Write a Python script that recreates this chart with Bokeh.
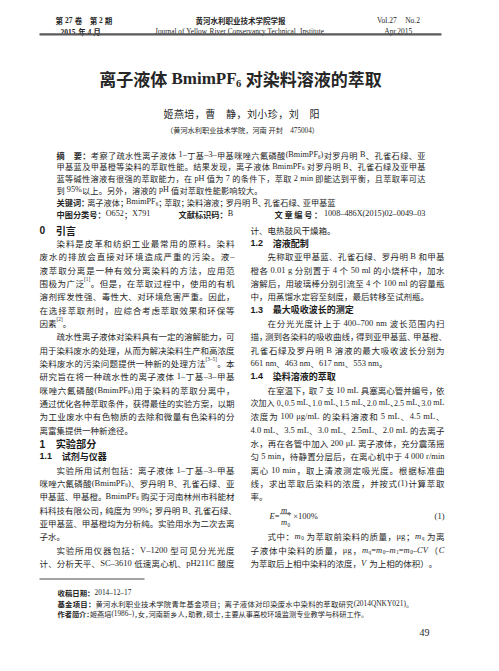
from bokeh.plotting import figure
from bokeh.models import ColumnDataSource, Range1d
from bokeh.embed import file_html
from bokeh.resources import INLINE

# ------------------------------------------------------------------ text data
header_left = ["*第 27 卷　第 2 期*", "*2015 年 4 月*"]
header_mid = ["*黄河水利职业技术学院学报*",
              "Journal of Yellow River Conservancy Technical  Institute"]
header_right = ["Vol.27　No.2", "Apr.2015"]
title = "*离子液体 BmimPF_{6} 对染料溶液的萃取*"
authors = "姬燕培，曹　静，刘小珍，刘　阳"
affiliation = "（黄河水利职业技术学院，河南 开封　475004）"

abstract_lines = [
    "*摘　要：*考察了疏水性离子液体 1–丁基–3–甲基咪唑六氟磷酸(BmimPF_{6})对罗丹明 B、孔雀石绿、亚",
    "甲基蓝及甲基橙等染料的萃取性能。结果发现，离子液体 BmimPF_{6} 对罗丹明 B、孔雀石绿及亚甲基",
    "蓝等碱性溶液有很强的萃取能力，在 pH 值为 7 的条件下，萃取 2 min 即能达到平衡，且萃取率可达",
    "到 95%以上。另外，溶液的 pH 值对萃取性能影响较大。",
    "*关键词：*离子液体；BmimPF_{6}；萃取；染料溶液；罗丹明 B、孔雀石绿、亚甲基蓝",
]
class_items = ["*中图分类号：*O652；X791", "*文献标识码：*B",
               "*文章编号：*1008–486X(2015)02–0049–03"]

left_lines = [
    "0　引言",
    "染料是皮革和纺织工业最常用的原料。染料",
    "废水的排放会直接对环境造成严重的污染。液–",
    "液萃取分离是一种有效分离染料的方法，应用范",
    "围极为广泛^{[1]}。但是，在萃取过程中，使用的有机",
    "溶剂挥发性强、毒性大、对环境危害严重。因此，",
    "在选择萃取剂时，应综合考虑萃取效果和环保等",
    "因素^{[2]}。",
    "疏水性离子液体对染料具有一定的溶解能力，可",
    "用于染料废水的处理，从而为解决染料生产和高浓度",
    "染料废水的污染问题提供一种新的处理方法^{[3–5]}。本",
    "研究旨在将一种疏水性的离子液体 1–丁基–3–甲基",
    "咪唑六氟磷酸(BmimPF_{6})用于染料的萃取分离中，",
    "通过优化各种萃取条件，获得最佳的实验方案，以期",
    "为工业废水中有色物质的去除和微量有色染料的分",
    "离富集提供一种新途径。",
    "1　实验部分",
    "1.1　试剂与仪器",
    "实验所用试剂包括：离子液体 1–丁基–3–甲基",
    "咪唑六氟磷酸(BmimPF_{6})、罗丹明 B、孔雀石绿、亚",
    "甲基蓝、甲基橙。BmimPF_{6} 购买于河南林州市科能材",
    "料科技有限公司，纯度为 99%；罗丹明 B、孔雀石绿、",
    "亚甲基蓝、甲基橙均为分析纯。实验用水为二次去离",
    "子水。",
    "实验所用仪器包括：V–1200 型可见分光光度",
    "计、分析天平、SC–3610 低速离心机、pH211C 酸度",
]
left_kinds = ["h", "i", "j", "j", "j", "j", "j", "e", "i", "j", "j", "j", "j",
              "j", "j", "e", "h", "s", "i", "j", "j", "j", "j", "e", "i", "j"]

right_lines = [
    "计、电热鼓风干燥箱。",
    "1.2　溶液配制",
    "先称取亚甲基蓝、孔雀石绿、罗丹明 B 和甲基",
    "橙各 0.01 g 分别置于 4 个 50 ml 的小烧杯中，加水",
    "溶解后，用玻璃棒分别引流至 4 个 100 ml 的容量瓶",
    "中，用蒸馏水定容至刻度，最后转移至试剂瓶。",
    "1.3　最大吸收波长的测定",
    "在分光光度计上于 400–700 nm 波长范围内扫",
    "描，测到各染料的吸收曲线，得到亚甲基蓝、甲基橙、",
    "孔雀石绿及罗丹明 B 溶液的最大吸收波长分别为",
    "661 nm、463 nm、617 nm、553 nm。",
    "1.4　染料溶液的萃取",
    "在室温下，取 7 支 10 mL 具塞离心管并编号，依",
    "次加入 0、0.5 mL、1.0 mL、1.5 mL、2.0 mL、2.5 mL、3.0 mL",
    "浓度为 100 μg/mL 的染料溶液和 5 mL、4.5 mL、",
    "4.0 mL、3.5 mL、3.0 mL、2.5mL、2.0 mL 的去离子",
    "水，再在各管中加入 200 μL 离子液体，充分震荡摇",
    "匀 5 min，待静置分层后，在离心机中于 4 000 r/min",
    "离心 10 min，取上清液测定吸光度。根据标准曲",
    "线，求出萃取后染料的浓度，并按式(1)计算萃取",
    "率。",
    "",
    "",
    "式中：~m~_{0} 为萃取前染料的质量，μg；~m~_{q} 为离",
    "子液体中染料的质量，μg，~m~_{q}=~m~_{0}–~m~_{1}=~m~_{0}–~CV~（~C~",
    "为萃取后上相中染料的浓度，~V~ 为上相的体积）。",
]
right_kinds = ["e", "s", "i", "j", "j", "e", "s", "i", "j", "j", "e", "s", "i",
               "j", "j", "j", "j", "j", "j", "j", "e", "g", "g", "i", "j", "e"]

formula_parts = ["~E~=", "~m~_{q}", "~m~_{0}", "×100%", "(1)"]

footnotes = [
    "*收稿日期：*2014–12–17",
    "*基金项目：*黄河水利职业技术学院青年基金项目；离子液体对印染废水中染料的萃取研究(2014QNKY021)。",
    "*作者简介：*姬燕培(1986–)，女，河南新乡人，助教，硕士，主要从事高校环境监测专业教学与科研工作。",
]
page_number = "49"

# ------------------------------------------------------------------ styling
INK = "#262626"
CJK = "Noto Sans CJK SC"
SERIF_F = "Liberation Serif"
SANS_F = "Liberation Sans"

_W = {c: 0.5 for c in "0123456789"}
_W.update(dict(zip("abcdefghijklmnopqrstuvwxyz",
                   [.444, .5, .444, .5, .444, .333, .5, .5, .278, .278, .5, .278, .778,
                    .5, .5, .5, .5, .333, .389, .278, .5, .5, .722, .5, .5, .444])))
_W.update(dict(zip("ABCDEFGHIJKLMNOPQRSTUVWXYZ",
                   [.722, .667, .667, .722, .611, .556, .722, .722, .333, .389, .722, .611, .889,
                    .722, .722, .556, .722, .667, .556, .611, .722, .722, .944, .722, .722, .611])))
_W.update({"(": .333, ")": .333, "[": .333, "]": .333, ".": .25, ",": .25, ":": .278,
           ";": .278, "–": .5, "-": .333, "/": .278, "%": .833, "μ": .576, "×": .564,
           "=": .564})
PUNCT = set("，。、；：")

X, Y, T, F, S, ST, C = [], [], [], [], [], [], []


def lat_w(ch, sans):
    if sans:
        if ch.isdigit():
            return 0.556
        if ch == ".":
            return 0.278
        return 0.6
    return _W.get(ch, 0.5)


def parse(s):
    toks, bold, ital, script, i = [], False, False, "n", 0
    while i < len(s):
        c = s[i]
        if c == "*":
            bold = not bold; i += 1; continue
        if c == "~":
            ital = not ital; i += 1; continue
        if s[i:i + 2] in ("_{", "^{"):
            script = "sub" if c == "_" else "sup"; i += 2; continue
        if c == "}" and script != "n":
            script = "n"; i += 1; continue
        toks.append((c, bold, ital, script))
        i += 1
    return toks


def chunks_of(s, fs, lat_font, force_bold):
    sans = lat_font == SANS_F
    out, pend = [], 0.0
    for (c, b, it, sc) in parse(s):
        b = b or force_bold
        sz = fs * (0.62 if sc != "n" else 1.0)
        if c == " ":
            pend += 0.25 * fs
            continue
        cjk = ord(c) >= 0x2E80
        prev = out[-1] if out else None
        if (not cjk and prev is not None and not prev["cjk"] and pend == 0
                and prev["b"] == b and prev["it"] == it and prev["sc"] == sc):
            prev["t"] += c
            prev["w"] += lat_w(c, sans) * sz * (1.05 if b else 1.0)
            continue
        glue = prev is not None and pend == 0 and (sc != "n" or (not cjk and not prev["cjk"]))
        w = sz if cjk else lat_w(c, sans) * sz * (1.05 if b else 1.0)
        out.append(dict(t=c, w=w, cjk=cjk, b=b, it=it, sc=sc, sz=sz, gap=pend,
                        glue=glue, punct=(c in PUNCT)))
        pend = 0.0
    return out


def place(s, x, yc, fs, x1=None, justify=False, align="left", lat_font=SERIF_F,
          force_bold=False, color=INK, draw=True):
    ch = chunks_of(s, fs, lat_font, force_bold)
    if not ch:
        return 0
    total = sum(c["w"] for c in ch) + sum(c["gap"] for c in ch[1:])
    scale, extra = 1.0, 0.0
    if x1 is not None:
        target = x1 - x
        if total > target:
            pun = [c for c in ch if c["punct"]]
            avail = sum(0.5 * c["w"] for c in pun)
            if avail > 0:
                r = min(total - target, avail)
                for c in pun:
                    c["w"] -= r * (0.5 * c["w"]) / avail
                total -= r
            if total > target:
                scale = target / total
                total = target
        elif justify:
            nb = sum(1 for c in ch[1:] if not c["glue"])
            if nb:
                extra = (target - total) / nb
                total = target
    if align == "center":
        x = x - total / 2
    elif align == "right":
        x = x - total
    if draw:
        cx = x
        for i, c in enumerate(ch):
            if i > 0:
                cx += c["gap"] * scale + (0 if c["glue"] else extra)
            off = {"n": 0.0, "sub": 0.25, "sup": -0.42}[c["sc"]] * fs
            X.append(cx)
            Y.append(yc + (0.37 * fs + off) * scale)
            T.append(c["t"])
            F.append(CJK if c["cjk"] else lat_font)
            S.append("%.2fpx" % (c["sz"] * scale))
            st = ("bold " if c["b"] else "") + ("italic" if c["it"] and not c["cjk"] else "")
            ST.append(st.strip() or "normal")
            C.append(color)
            cx += c["w"] * scale
    return total


# ------------------------------------------------------------------ layout
# running head
place(header_left[0], 63, 25, 7.5)
place(header_left[1], 68, 36.5, 7.5)
place(header_mid[0], 248, 25, 7.5, align="center")
place(header_mid[1], 247, 36.5, 7.3, align="center")
place(header_right[0], 406, 25, 7.5, align="center")
place(header_right[1], 406, 36.5, 7.5, align="center")

# title block
place(title, 248, 80, 17, align="center", force_bold=True)
place(authors, 171, 117, 10, x1=327, justify=True)
place(affiliation, 250, 135, 7.2, align="center")

# abstract (letter-spaced block; right ends of each line)
AB_X0, AB_Y0, AB_LH, AB_FS = 64, 159, 11.8, 8.2
abstract_ends = [433, 433, 433, 270, 343]
for k, line in enumerate(abstract_lines):
    place(line, AB_X0, AB_Y0 + k * AB_LH, AB_FS, x1=abstract_ends[k], justify=True)
cy = AB_Y0 + len(abstract_lines) * AB_LH
place(class_items[0], 64, cy, AB_FS)
place(class_items[1], 186, cy, AB_FS)
place(class_items[2], 282, cy, AB_FS, x1=433, justify=True)

# body columns
BODY_TOP, BODY_LH, BODY_FS = 234, 13.33, 8.5


def column(lines, kinds, x0, x1):
    for k, (line, kind) in enumerate(zip(lines, kinds)):
        y = BODY_TOP + k * BODY_LH
        if kind == "g" or not line:
            continue
        if kind == "h":
            place(line, x0, y, 10.2, lat_font=SANS_F, force_bold=True, color="#1a1a1a")
        elif kind == "s":
            place(line, x0, y, 9, lat_font=SANS_F, force_bold=True, color="#1a1a1a")
        elif kind == "i":
            place(line, x0 + 2 * BODY_FS, y, BODY_FS, x1=x1, justify=True)
        elif kind == "j":
            place(line, x0, y, BODY_FS, x1=x1, justify=True)
        else:
            place(line, x0, y, BODY_FS, x1=x1, justify=False)


column(left_lines, left_kinds, 47, 242)
column(right_lines, right_kinds, 258, 452)

# equation (1)
fy = BODY_TOP + 21.5 * BODY_LH
ex = 277
w_e = place(formula_parts[0], ex, fy, BODY_FS)
w_num = place(formula_parts[1], 0, 0, BODY_FS, draw=False)
w_den = place(formula_parts[2], 0, 0, BODY_FS, draw=False)
fw = max(w_num, w_den)
fxc = ex + w_e + 1.5 + fw / 2
place(formula_parts[1], fxc, fy - 5.8, BODY_FS, align="center")
place(formula_parts[2], fxc, fy + 6.2, BODY_FS, align="center")
place(formula_parts[3], fxc + fw / 2 + 3, fy, BODY_FS)
place(formula_parts[4], 452, fy, BODY_FS, align="right")

# footnotes
FN_FS = 7.4
place(footnotes[0], 65, 597, FN_FS)
place(footnotes[1], 65, 608, FN_FS, x1=421, justify=True)
place(footnotes[2], 65, 619, FN_FS, x1=372, justify=True)
place(page_number, 432, 636.5, 10, align="center")

# ------------------------------------------------------------------ figure
p = figure(width=483, height=655, x_range=Range1d(8, 491), y_range=Range1d(663, 8),
           output_backend="svg", toolbar_location=None, min_border=0,
           x_axis_location=None, y_axis_location=None)
p.grid.visible = False
p.outline_line_color = None
p.background_fill_color = "white"
p.border_fill_color = "white"

src = ColumnDataSource(dict(x=X, y=Y, text=T, font=F, size=S, style=ST, color=C))
p.text(x="x", y="y", text="text", source=src, text_font="font", text_font_size="size",
       text_font_style="style", text_color="color", text_align="left",
       text_baseline="alphabetic")

# rules
p.segment(x0=[47], y0=[41.8], x1=[449], y1=[41.8], line_width=2.2, line_color="#5a5a5a")
p.segment(x0=[47], y0=[586.5], x1=[152], y1=[586.5], line_width=0.9, line_color="#333333")
p.segment(x0=[fxc - fw / 2 - 1], y0=[fy + 0.6], x1=[fxc + fw / 2 + 1], y1=[fy + 0.6],
          line_width=0.7, line_color=INK)

open("out.html", "w").write(file_html(p, INLINE))
